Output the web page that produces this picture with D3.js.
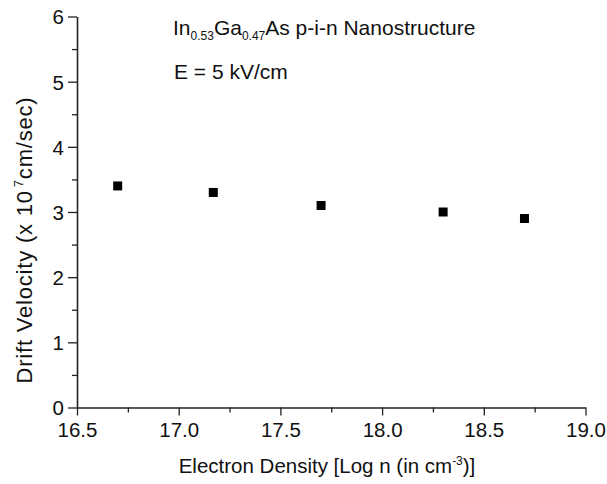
<!DOCTYPE html>
<html>
<head>
<meta charset="utf-8">
<script src="https://cdn.jsdelivr.net/npm/d3@7"></script>
<style>
  body { margin: 0; background: #fff; }
  text { font-family: "Liberation Sans", Arial, Helvetica, sans-serif; fill: #111; }
</style>
</head>
<body>
<script>
// data
const logDensity = [16.70, 17.17, 17.70, 18.30, 18.70];
const driftVelocity = [3.4, 3.3, 3.1, 3.0, 2.9];

const xTicks = [16.5, 17.0, 17.5, 18.0, 18.5, 19.0];
const xMinor = [16.75, 17.25, 17.75, 18.25, 18.75];
const yTicks = [0, 1, 2, 3, 4, 5, 6];
const yMinor = [0.5, 1.5, 2.5, 3.5, 4.5, 5.5];

const width = 607, height = 484;
const svg = d3.select("body").append("svg").attr("width", width).attr("height", height);

const xScale = d3.scaleLinear().domain([16.5, 19.0]).range([77, 585.5]);
const yScale = d3.scaleLinear().domain([0, 6]).range([407.5, 16.5]);

const axisColor = "#222";

// x axis
const xAxis = svg.append("g").attr("transform", `translate(0, ${yScale(0)})`)
  .call(d3.axisBottom(xScale).tickValues(xTicks).tickFormat(d3.format(".1f")).tickSize(8).tickSizeOuter(0));
svg.append("g").attr("transform", `translate(0, ${yScale(0)})`)
  .call(d3.axisBottom(xScale).tickValues(xMinor).tickFormat("").tickSize(5).tickSizeOuter(0))
  .select(".domain").remove();

// y axis
const yAxis = svg.append("g").attr("transform", `translate(${xScale(16.5)}, 0)`)
  .call(d3.axisLeft(yScale).tickValues(yTicks).tickFormat(d3.format("d")).tickSize(9).tickSizeOuter(0));
svg.append("g").attr("transform", `translate(${xScale(16.5)}, 0)`)
  .call(d3.axisLeft(yScale).tickValues(yMinor).tickFormat("").tickSize(5).tickSizeOuter(0))
  .select(".domain").remove();

svg.selectAll(".domain").attr("stroke", axisColor).attr("stroke-width", 1.6);
svg.selectAll(".tick line").attr("stroke", axisColor).attr("stroke-width", 1.3);
svg.selectAll(".tick text")
  .attr("font-size", 20.5)
  .attr("font-family", "Liberation Sans, Arial, sans-serif")
  .attr("fill", "#111");
xAxis.selectAll(".tick text").attr("y", 29.5).attr("dy", 0);
yAxis.selectAll(".tick text").attr("dy", "0.36em").attr("x", -13);

// points
svg.append("g").selectAll("rect")
  .data(logDensity.map((x, i) => ({x: x, y: driftVelocity[i]})))
  .enter().append("rect")
  .attr("x", d => xScale(d.x) - 4.5)
  .attr("y", d => yScale(d.y) - 4.5)
  .attr("width", 9)
  .attr("height", 9)
  .attr("fill", "#000");

// annotations
const title = svg.append("text").attr("x", 173).attr("y", 35).attr("font-size", 21);
title.append("tspan").text("In");
title.append("tspan").attr("font-size", 12).attr("dy", 5).text("0.53");
title.append("tspan").attr("dy", -5).text("Ga");
title.append("tspan").attr("font-size", 12).attr("dy", 5).text("0.47");
title.append("tspan").attr("dy", -5).text("As p-i-n Nanostructure");

svg.append("text").attr("x", 174).attr("y", 79).attr("font-size", 21).text("E = 5 kV/cm");

// x label
const xLabel = svg.append("text").attr("x", 327).attr("y", 473).attr("text-anchor", "middle").attr("font-size", 20.5);
xLabel.append("tspan").text("Electron Density [Log n (in cm");
xLabel.append("tspan").attr("font-size", 12).attr("dy", -8).text("-3");
xLabel.append("tspan").attr("dy", 8).text(")]");

// y label
const yLabel = svg.append("text")
  .attr("transform", `translate(32, 240) rotate(-90)`)
  .attr("text-anchor", "middle").attr("font-size", 22).attr("letter-spacing", 0.8);
yLabel.append("tspan").text("Drift Velocity (x 10");
yLabel.append("tspan").attr("font-size", 13).attr("dx", 3).attr("dy", -9).text("7");
yLabel.append("tspan").attr("dy", 9).text("cm/sec)");
</script>
</body>
</html>
